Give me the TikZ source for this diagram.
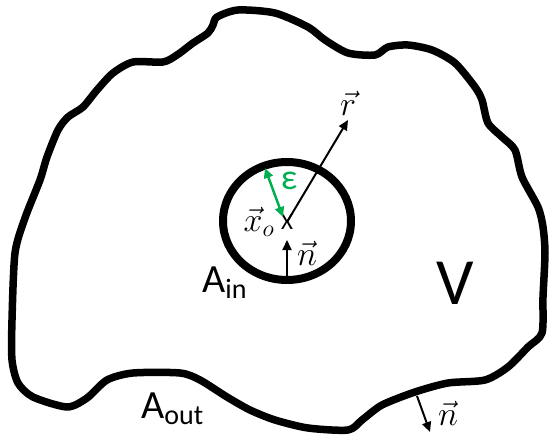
\RequirePackage{fix-cm}
\documentclass[tikz,border=0pt]{standalone}
\usepackage{fontspec}
\setmainfont{Carlito}
\usetikzlibrary{arrows.meta}
\definecolor{egreen}{RGB}{0,176,80}
\tikzset{
  boundary/.style={line width=7.5pt, line join=round},
  vecarrow/.style={line width=2pt, -{Triangle[length=10pt,width=9pt]}},
  epsarrow/.style={line width=2.5pt, color=egreen, {Triangle[length=10pt,width=9pt]}-{Triangle[length=10pt,width=9pt]}},
  mathlabel/.style={font=\fontsize{34}{38}\selectfont, inner sep=0pt},
  sanslabel/.style={inner sep=0pt}
}
\begin{document}
\begin{tikzpicture}[x=1pt,y=-1pt]
\useasboundingbox (0,0) rectangle (550,439);
% outer boundary
\draw[boundary] plot[smooth cycle, tension=0.45] coordinates {
(238,10) (275,13) (308,27) (325,40) (348,53) (375,55) (388,47) (408,45) (432,50) (455,63) (475,87) (482,100) (488,123) (502,137) (515,150) (522,177) (538,207) (543,227) (545,253) (543,297) (542,333) (528,347) (508,367) (485,380) (448,383) (415,392) (382,405) (362,420) (348,430) (308,428) (275,420) (250,410) (227,397) (200,380) (180,373) (133,373) (107,380) (87,398) (67,407) (33,397) (18,383) (12,360) (12,320) (15,253) (25,218) (40,180) (47,157) (58,130) (68,117) (83,107) (97,90) (113,73) (133,62) (163,62) (177,55) (193,43) (208,33) (213,25) (217,17)
};
% inner sphere
\draw[line width=8pt] (287,221) ellipse [x radius=64, y radius=59];
\coordinate (c) at (287,222);
\node[sanslabel, font=\fontsize{23}{25}\selectfont] (xmark) at (c) {X};
\coordinate (rtip) at (348,120);
\draw[vecarrow] (c) -- (rtip);
\node[mathlabel] (rlab) at (348,103) {$\vec{r}$};
% epsilon
\coordinate (e1) at (265,168);
\coordinate (e2) at (283,217);
\draw[epsarrow] (e1) -- (e2);
\node[sanslabel, text=egreen, font=\fontsize{36}{40}\selectfont] (eps) at (289,181) {ε};
% x_o
\node[mathlabel] (xo) at (259,222) {$\vec{x}_o$};
% inner normal
\coordinate (nb) at (287,283);
\coordinate (nt) at (287,240);
\draw[vecarrow] (nb) -- (nt);
\node[mathlabel] (nin) at (307,253) {$\vec{n}$};
% outer normal
\coordinate (ob) at (417,396);
\coordinate (ot) at (430,432);
\draw[vecarrow] (ob) -- (ot);
\node[mathlabel] (nout) at (448,413) {$\vec{n}$};
% labels
\node[sanslabel, font=\fontsize{40}{44}\selectfont, anchor=base west] (ain) at (202,292) {A\textsubscript{in}};
\node[sanslabel, font=\fontsize{40}{44}\selectfont, anchor=base west] (aout) at (141,418) {A\textsubscript{out}};
\node[sanslabel, font=\fontsize{66}{70}\selectfont] (V) at (455,283) {V};
\end{tikzpicture}
\end{document}
